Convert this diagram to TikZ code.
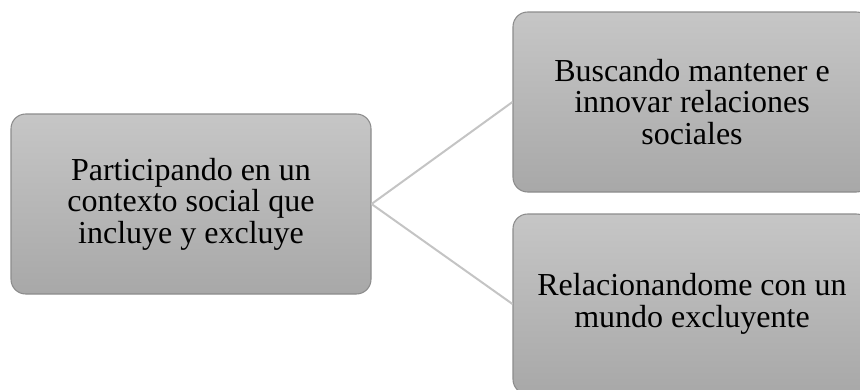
\documentclass[tikz,border=0pt]{standalone}
\usepackage{fontspec}
\setmainfont{Liberation Serif}
\usetikzlibrary{positioning}
\definecolor{boxtop}{HTML}{C6C6C6}
\definecolor{boxbottom}{HTML}{A8A8A8}
\definecolor{boxline}{HTML}{8C8C8C}
\definecolor{linkline}{HTML}{C4C4C4}
\tikzset{MindMap/.style={
    x=0.75pt, y=-0.75pt,
    base/.style = {draw=boxline, line width=0.8pt, rounded corners=11pt,
        top color=boxtop, bottom color=boxbottom, align=center,
        font=\fontsize{24}{23.6}\selectfont, inner sep=0pt},
    rootbox/.style = {base, minimum width=270pt, minimum height=135pt},
    leafbox/.style = {base, minimum width=268.5pt, minimum height=135pt},
    link/.style = {draw=linkline, line width=1.5pt}
}}

\begin{document}
\begin{tikzpicture}[MindMap]
    \clip (0,0) rectangle (860,389);
    \useasboundingbox (0,0) rectangle (860,389);

    \node [rootbox] (root) at (191,204) {
        Participando en un\\ contexto social que\\ incluye y excluye
    };
    \node [leafbox] (keep) at (692,102) {
        Buscando mantener e\\ innovar relaciones\\ sociales
    };
    \node [leafbox] (world) at (692,304) {
        Relacionandome con un\\ mundo excluyente
    };

    \draw [link]
    (root.east) -- (keep.west)
    (root.east) -- (world.west);
\end{tikzpicture}
\end{document}
